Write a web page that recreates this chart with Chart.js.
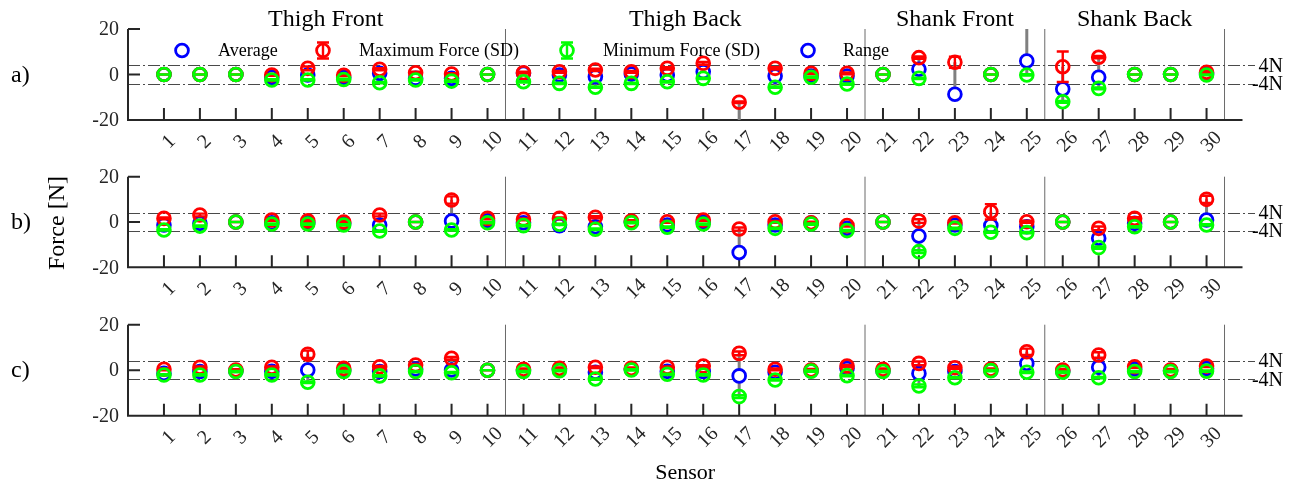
<!DOCTYPE html>
<html>
<head>
<meta charset="utf-8">
<script src="https://cdn.jsdelivr.net/npm/chart.js@4.4.1/dist/chart.umd.min.js"></script>
<style>
  html, body { margin: 0; padding: 0; background: #ffffff; }
  #wrap { position: relative; width: 1297px; height: 487px; overflow: hidden; background: #ffffff; }
  #wrap canvas { position: absolute; left: 0; }
</style>
</head>
<body>
<div id="wrap">
  <canvas id="panelA" width="1297" height="160" style="top:0px"></canvas>
  <canvas id="panelB" width="1297" height="150" style="top:160px"></canvas>
  <canvas id="panelC" width="1297" height="177" style="top:310px"></canvas>
</div>
<script>
// ---- sensors, axis ticks and annotations ----
const sensors = Array.from({ length: 30 }, (_, i) => i + 1);
const sensorLabels = sensors.map(String);
const yTicks = [20, 0, -20];
const yTickLabels = ['20', '0', '-20'];
const groupNames = ['Thigh Front', 'Thigh Back', 'Shank Front', 'Shank Back'];
const groupCenters = [5.5, 15.5, 23, 28];
const groupBounds = [10.5, 20.5, 25.5, 30.5];
const thresholds = [4, -4];
const thresholdLabels = ['4N', '-4N'];
const legendLabels = ['Average', 'Maximum Force (SD)', 'Minimum Force (SD)', 'Range'];

// ---- condition a) ----
const avgA = [0, 0, 0, -1.2, -0.2, -1.2, 0.5, -1.7, -1.7, 0,
              0.5, -0.2, -1.0, 0.2, -0.2, 1.2, -24, -0.7, -0.7, -0.7,
              0, 2.3, -8.7, 0, 5.9, -6.4, -1.2, 0, 0, 0.3];
const maxA = [0, 0, 0, -0.2, 2.7, -0.3, 2.3, 0.8, 0.2, 0,
              0.8, 1.2, 2.0, 1.2, 2.7, 4.9, -12.2, 2.7, 0.5, 0.5,
              0, 7.4, 5.4, 0, 26, 3.4, 7.6, 0, 0, 1.0];
const maxSdA = [0, 0, 0, 0.4, 0.8, 0.4, 0.5, 0.4, 0.4, 0,
                0.4, 0.4, 0.5, 0.4, 0.5, 0.6, 0.3, 0.5, 0.3, 0.4,
                0, 0.5, 2.4, 0, 0.8, 6.7, 0.5, 0, 0, 0.4];
const minA = [0, 0, 0, -2.4, -2.4, -2.2, -3.6, -2.4, -2.9, 0,
              -3.2, -3.9, -5.6, -3.9, -3.2, -1.7, -30, -5.6, -1.2, -4.2,
              0, -1.7, null, 0, -0.2, -12.0, -6.1, 0, 0, -0.2];
const minSdA = [0, 0, 0, 0.3, 0.3, 0.3, 0.3, 0.3, 0.3, 0,
                0.3, 0.3, 0.3, 0.3, 0.3, 0.3, 0.3, 0.3, 0.3, 0.3,
                0, 0.3, 0, 0, 0.3, 0.4, 0.4, 0, 0, 0.2];

// ---- condition b) ----
const avgB = [-1.3, -0.6, 0, -0.3, -0.3, -0.6, -1.3, 0, 0.4, 0.5,
              -0.3, -1.6, -2.1, 0, -1.3, 0, -13.5, -1.3, -0.5, -2.8,
              0, -6.2, -1.3, -1.6, -2.1, 0, -7.2, -0.6, 0, 0.9];
const maxB = [1.6, 3.1, 0, 0.9, 0.5, 0, 3.1, 0, 9.7, 1.6,
              1.2, 1.6, 2.1, 0.4, 0.1, 0.9, -3.1, 0.1, -0.3, -1.6,
              0, 0.4, -0.3, 4.5, 0.1, 0, -2.8, 1.6, 0, 10.0];
const maxSdB = [0.4, 0.6, 0, 0.4, 0.4, 0.4, 0.6, 0, 1.6, 0.4,
                0.4, 0.4, 0.5, 0.4, 0.4, 0.4, 0.7, 0.4, 0.4, 0.4,
                0, 0.8, 0.4, 3.4, 0.5, 0, 0.8, 0.5, 0, 1.6];
const minB = [-3.5, -1.8, 0, -0.9, -0.9, -1.3, -4.0, 0, -3.5, -0.3,
              -1.6, -1.0, -3.2, -0.3, -2.3, -0.9, null, -2.8, -0.9, -3.8,
              0, -13.1, -2.8, -4.5, -4.7, 0, -11.3, -2.1, 0, -1.3];
const minSdB = [0.3, 0.3, 0, 0.3, 0.3, 0.3, 0.3, 0, 0.3, 0.3,
                0.3, 0.3, 0.3, 0.3, 0.3, 0.3, 0, 0.3, 0.3, 0.3,
                0, 0.6, 0.3, 0.3, 0.3, 0, 0.5, 0.3, 0, 0.3];

// ---- condition c) ----
const avgC = [-1.4, -0.6, -0.3, -0.5, 0.1, 0, -0.6, 0.5, 0.1, 0,
              0, 0.3, -0.9, 0.4, -0.5, -0.6, -2.5, -0.9, -0.2, 0.8,
              -0.2, -1.4, -0.6, 0, 3.0, -0.4, 1.3, 0.5, -0.2, 0.8];
const maxC = [0.4, 1.3, 0.1, 1.3, 7.0, 0.8, 1.5, 2.3, 5.2, 0,
              0.4, 0.8, 1.3, 0.8, 1.3, 1.8, 7.4, 0.4, 0.1, 1.8,
              0.4, 3.0, 1.1, 0.4, 8.1, 0.1, 6.7, 1.5, 0.1, 1.8];
const maxSdC = [0.4, 0.4, 0.3, 0.4, 1.6, 0.4, 0.4, 0.4, 0.6, 0,
                0.4, 0.4, 0.4, 0.4, 0.4, 0.4, 0.8, 0.4, 0.4, 0.5,
                0.4, 0.8, 0.5, 0.4, 1.4, 0.4, 1.2, 0.4, 0.4, 0.4];
const minC = [-2.1, -2.1, -0.6, -2.1, -5.3, -0.6, -2.5, -0.6, -1.1, 0,
              -0.6, -0.2, -3.9, 0.1, -1.8, -2.1, -11.6, -4.3, -0.4, -2.4,
              -0.6, -6.9, -3.3, -0.2, -0.9, -0.9, -3.3, -0.6, -0.6, -0.4];
const minSdC = [0.3, 0.3, 0.3, 0.3, 0.4, 0.3, 0.3, 0.3, 0.3, 0,
                0.3, 0.3, 0.3, 0.3, 0.3, 0.3, 0.6, 0.3, 0.3, 0.3,
                0.3, 0.6, 0.3, 0.3, 0.3, 0.3, 0.3, 0.3, 0.3, 0.3];

// ---- styling ----
const SERIF = '"Liberation Serif", "Times New Roman", serif';
const AXIS_COLOR = '#262626';
const BLUE = '#0000ff', RED = '#ff0000', GREEN = '#00ff00', GRAY = '#808080';
const MARKER_R = 6.4, MARKER_W = 2.8, CAP_HALF = 6, BAR_W = 2.4;

function toPoints(values) {
  const out = [];
  values.forEach((v, i) => { if (v !== null) out.push({ x: sensors[i], y: v }); });
  return out;
}

function drawCircle(ctx, x, y, color, fill) {
  ctx.save();
  ctx.beginPath();
  ctx.arc(x, y, MARKER_R, 0, Math.PI * 2);
  if (fill) { ctx.fillStyle = fill; ctx.fill(); }
  ctx.lineWidth = MARKER_W;
  ctx.strokeStyle = color;
  ctx.stroke();
  ctx.restore();
}

function drawErrorBar(ctx, x, yTop, yBottom, color) {
  ctx.save();
  ctx.strokeStyle = color;
  ctx.lineWidth = BAR_W;
  ctx.beginPath();
  ctx.moveTo(x, yTop); ctx.lineTo(x, yBottom);
  ctx.moveTo(x - CAP_HALF, yTop); ctx.lineTo(x + CAP_HALF, yTop);
  ctx.moveTo(x - CAP_HALF, yBottom); ctx.lineTo(x + CAP_HALF, yBottom);
  ctx.stroke();
  ctx.restore();
}

function decorPlugin(p) {
  return {
    id: 'panelDecor',
    beforeDatasetsDraw(chart) {
      const { ctx, chartArea: a, scales: { x, y } } = chart;
      ctx.save();
      // group separators
      ctx.strokeStyle = '#6a6a6a';
      ctx.lineWidth = 1;
      groupBounds.forEach(b => {
        const px = x.getPixelForValue(b);
        ctx.beginPath(); ctx.moveTo(px, y.getPixelForValue(20)); ctx.lineTo(px, y.getPixelForValue(-20)); ctx.stroke();
      });
      // +/- 4 N threshold lines
      ctx.strokeStyle = '#4a4a4a';
      ctx.setLineDash([12, 3, 2, 3]);
      thresholds.forEach(t => {
        const py = Math.round(y.getPixelForValue(t)) + 0.5;
        ctx.beginPath(); ctx.moveTo(a.left, py); ctx.lineTo(1255, py); ctx.stroke();
      });
      ctx.setLineDash([]);
      // axes with inward ticks
      ctx.strokeStyle = AXIS_COLOR;
      ctx.lineWidth = 2;
      ctx.beginPath();
      ctx.moveTo(a.left, y.getPixelForValue(20)); ctx.lineTo(a.left, y.getPixelForValue(-20));
      ctx.lineTo(x.getPixelForValue(31), y.getPixelForValue(-20));
      yTicks.forEach(t => {
        const py = y.getPixelForValue(t);
        ctx.moveTo(a.left, py); ctx.lineTo(a.left + 12, py);
      });
      sensors.forEach(s => {
        const px = x.getPixelForValue(s);
        ctx.moveTo(px, a.bottom); ctx.lineTo(px, a.bottom - 12);
      });
      ctx.stroke();
      // range bars from maximum to minimum force
      ctx.beginPath(); ctx.rect(a.left, a.top, a.width, a.height); ctx.clip();
      ctx.strokeStyle = GRAY;
      ctx.lineWidth = 3;
      sensors.forEach((s, i) => {
        const hi = p.max[i] !== null ? p.max[i] : p.avg[i];
        const lo = p.min[i] !== null ? p.min[i] : p.avg[i];
        if (hi === lo) return;
        const px = x.getPixelForValue(s);
        ctx.beginPath(); ctx.moveTo(px, y.getPixelForValue(hi)); ctx.lineTo(px, y.getPixelForValue(lo)); ctx.stroke();
      });
      ctx.restore();
    },
    afterDatasetDraw(chart, args) {
      if (args.index === 0) return;
      const { ctx, chartArea: a, scales: { x, y } } = chart;
      const vals = args.index === 1 ? p.max : p.min;
      const sds = args.index === 1 ? p.maxSd : p.minSd;
      const color = args.index === 1 ? RED : GREEN;
      ctx.save();
      ctx.beginPath(); ctx.rect(a.left, a.top, a.width, a.height); ctx.clip();
      sensors.forEach((s, i) => {
        if (vals[i] === null) return;
        drawErrorBar(ctx, x.getPixelForValue(s), y.getPixelForValue(vals[i] + sds[i]), y.getPixelForValue(vals[i] - sds[i]), color);
      });
      ctx.restore();
    },
    afterDraw(chart) {
      const { ctx, chartArea: a, scales: { x, y } } = chart;
      ctx.save();
      // y tick labels
      ctx.fillStyle = AXIS_COLOR;
      ctx.font = '20px ' + SERIF;
      ctx.textAlign = 'right';
      ctx.textBaseline = 'middle';
      yTicks.forEach((t, i) => ctx.fillText(yTickLabels[i], a.left - 9, y.getPixelForValue(t) + 1));
      // rotated sensor labels
      ctx.font = '20px ' + SERIF;
      ctx.textAlign = 'center';
      sensors.forEach((s, i) => {
        ctx.save();
        ctx.translate(x.getPixelForValue(s) + 5, a.bottom + 22);
        ctx.rotate(-Math.PI / 4);
        ctx.fillText(sensorLabels[i], 0, 0);
        ctx.restore();
      });
      // threshold labels on the right
      ctx.fillStyle = '#000000';
      ctx.font = '20px ' + SERIF;
      ctx.textAlign = 'right';
      thresholds.forEach((t, i) => ctx.fillText(thresholdLabels[i], 1283, y.getPixelForValue(t) + 1));
      // row tag
      ctx.font = '24px ' + SERIF;
      ctx.textAlign = 'left';
      ctx.fillText(p.tag, 11, y.getPixelForValue(0) + 1);
      if (p.extra) p.extra(chart, ctx);
      ctx.restore();
    }
  };
}

function drawTopDecor(chart, ctx) {
  const { scales: { x } } = chart;
  ctx.fillStyle = '#000000';
  ctx.font = '24px ' + SERIF;
  ctx.textAlign = 'center';
  ctx.textBaseline = 'alphabetic';
  groupNames.forEach((g, i) => ctx.fillText(g, x.getPixelForValue(groupCenters[i]), 26));
  // legend
  const ly = 50.5;
  const icons = [182, 323, 567, 808];
  const texts = [218, 359, 603, 843];
  drawCircle(ctx, icons[0], ly, BLUE, '#ffffff');
  drawCircle(ctx, icons[1], ly, RED, null);
  drawErrorBar(ctx, icons[1], ly - 8, ly + 8, RED);
  drawCircle(ctx, icons[2], ly, GREEN, null);
  drawErrorBar(ctx, icons[2], ly - 8, ly + 8, GREEN);
  drawCircle(ctx, icons[3], ly, BLUE, '#ffffff');
  ctx.fillStyle = '#000000';
  ctx.font = '18px ' + SERIF;
  ctx.textAlign = 'left';
  ctx.textBaseline = 'middle';
  legendLabels.forEach((t, i) => ctx.fillText(t, texts[i], ly + 1));
}

function drawMiddleDecor(chart, ctx) {
  ctx.fillStyle = '#000000';
  ctx.font = '24px ' + SERIF;
  ctx.textAlign = 'center';
  ctx.textBaseline = 'middle';
  ctx.save();
  ctx.translate(58, 223 - 160);
  ctx.rotate(-Math.PI / 2);
  ctx.fillText('Force [N]', 0, 0);
  ctx.restore();
}

function drawBottomDecor(chart, ctx) {
  const { scales: { x } } = chart;
  ctx.fillStyle = '#000000';
  ctx.font = '22px ' + SERIF;
  ctx.textAlign = 'center';
  ctx.textBaseline = 'alphabetic';
  ctx.fillText('Sensor', x.getPixelForValue(15.5), 479 - 310);
}

function makePanel(canvasId, p, padTop, padBottom) {
  const pointStyle = (color, fill, order) => ({
    borderColor: color, backgroundColor: fill,
    pointBorderColor: color, pointBackgroundColor: fill,
    pointRadius: MARKER_R, pointBorderWidth: MARKER_W, pointHoverRadius: MARKER_R,
    showLine: false, order: order, clip: 0
  });
  return new Chart(document.getElementById(canvasId), {
    type: 'scatter',
    data: {
      datasets: [
        Object.assign({ label: legendLabels[0], data: toPoints(p.avg) }, pointStyle(BLUE, '#ffffff', 3)),
        Object.assign({ label: legendLabels[1], data: toPoints(p.max) }, pointStyle(RED, 'rgba(0,0,0,0)', 2)),
        Object.assign({ label: legendLabels[2], data: toPoints(p.min) }, pointStyle(GREEN, 'rgba(0,0,0,0)', 1))
      ]
    },
    options: {
      responsive: false,
      animation: false,
      events: [],
      layout: { padding: { left: 128, right: 54.5, top: padTop, bottom: padBottom } },
      plugins: { legend: { display: false }, tooltip: { enabled: false }, title: { display: false } },
      scales: {
        x: { type: 'linear', min: 0, max: 31, display: false },
        y: { type: 'linear', min: -20, max: 20, display: false }
      }
    },
    plugins: [decorPlugin(p)]
  });
}

makePanel('panelA', { tag: 'a)', avg: avgA, max: maxA, maxSd: maxSdA, min: minA, minSd: minSdA, extra: drawTopDecor }, 29, 40);
makePanel('panelB', { tag: 'b)', avg: avgB, max: maxB, maxSd: maxSdB, min: minB, minSd: minSdB, extra: drawMiddleDecor }, 16.7, 42.7);
makePanel('panelC', { tag: 'c)', avg: avgC, max: maxC, maxSd: maxSdC, min: minC, minSd: minSdC, extra: drawBottomDecor }, 14.7, 71.3);
</script>
</body>
</html>
